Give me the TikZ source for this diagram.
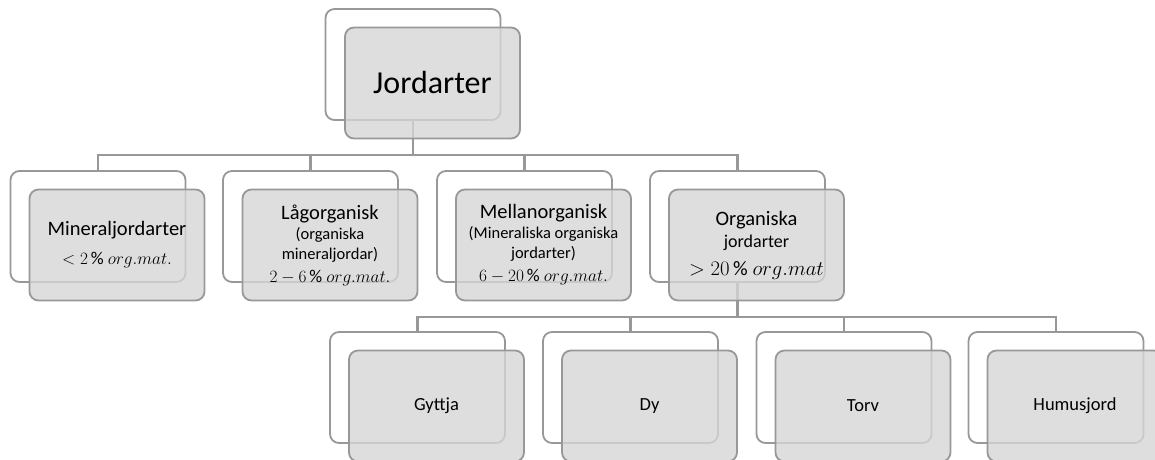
\documentclass[tikz,border=0pt]{standalone}
\usepackage{fontspec}
\setmainfont{Carlito}
\usepackage{tikz}
\usepackage{xcolor}

\definecolor{boxline}{RGB}{152,152,152}
\definecolor{boxfill}{RGB}{214,214,214}

\newcommand{\pct}[1]{{\fontsize{18}{22}\selectfont$#1$}}
\newcommand{\sub}[1]{{\fontsize{16.5}{19}\selectfont #1}}

\tikzset{
  backbox/.style={draw=boxline, line width=1.8pt, rounded corners=9pt, fill=white,
    minimum width=175pt, minimum height=111pt, inner sep=0pt, align=center},
  frontbox/.style={backbox, fill=boxfill, fill opacity=0.8, text opacity=1,
    font=\fontsize{20.5}{20}\selectfont},
  leafbox/.style={frontbox, font=\fontsize{18.5}{20}\selectfont},
  conn/.style={draw=boxline, line width=2.2pt},
}

\begin{document}
\begin{tikzpicture}[x=1pt,y=-1pt]
  \useasboundingbox (0,0) rectangle (1155,459);
  \clip (0,0) rectangle (1155,459);

  % back boxes
  \node[backbox] (jord-b) at (413,64.5) {};
  \node[backbox] (min-b) at (98,226.5) {};
  \node[backbox] (lag-b) at (310.5,226.5) {};
  \node[backbox] (mel-b) at (524.5,226.5) {};
  \node[backbox] (org-b) at (737.5,226.5) {};
  \node[backbox] (gyt-b) at (417.5,387.5) {};
  \node[backbox] (dy-b) at (630.5,387.5) {};
  \node[backbox] (tor-b) at (844,387.5) {};
  \node[backbox] (hum-b) at (1056,387.5) {};

  % connectors
  \foreach \n in {min,lag,mel,org}
    \draw[conn] (jord-b.south) -- ++(0,34) -| (\n-b.north);
  \foreach \n in {gyt,dy,tor,hum}
    \draw[conn] (org-b.south) -- ++(0,34) -| (\n-b.north);

  % front boxes
  \node[frontbox, font=\fontsize{32}{36}\selectfont] (jord) at (432.5,83) {Jordarter};
  \node[frontbox] (min) at (117,245) {Mineraljordarter\\[9pt] \pct{< 2\,\%\ org.mat.}};
  \node[frontbox] (lag) at (330,245) {L\aa gorganisk\\ \sub{(organiska}\\ \sub{mineraljordar)}\\[3pt] \pct{2-6\,\%\ org.mat.}};
  \node[frontbox] (mel) at (543.5,245) {Mellanorganisk\\ \sub{(Mineraliska organiska}\\ \sub{jordarter)}\\[3pt] \pct{6-20\,\%\ org.mat.}};
  \node[frontbox] (org) at (756.5,245) {Organiska\\[2pt] {\fontsize{18}{20}\selectfont jordarter}\\[8pt] {\fontsize{20.5}{22}\selectfont$> 20\,\%\ org.mat$}};

  \node[leafbox] (gyt) at (436.5,406) {Gyttja};
  \node[leafbox] (dy) at (649.5,406) {Dy};
  \node[leafbox] (tor) at (863,406) {Torv};
  \node[leafbox] (hum) at (1075,406) {Humusjord};
\end{tikzpicture}
\end{document}
